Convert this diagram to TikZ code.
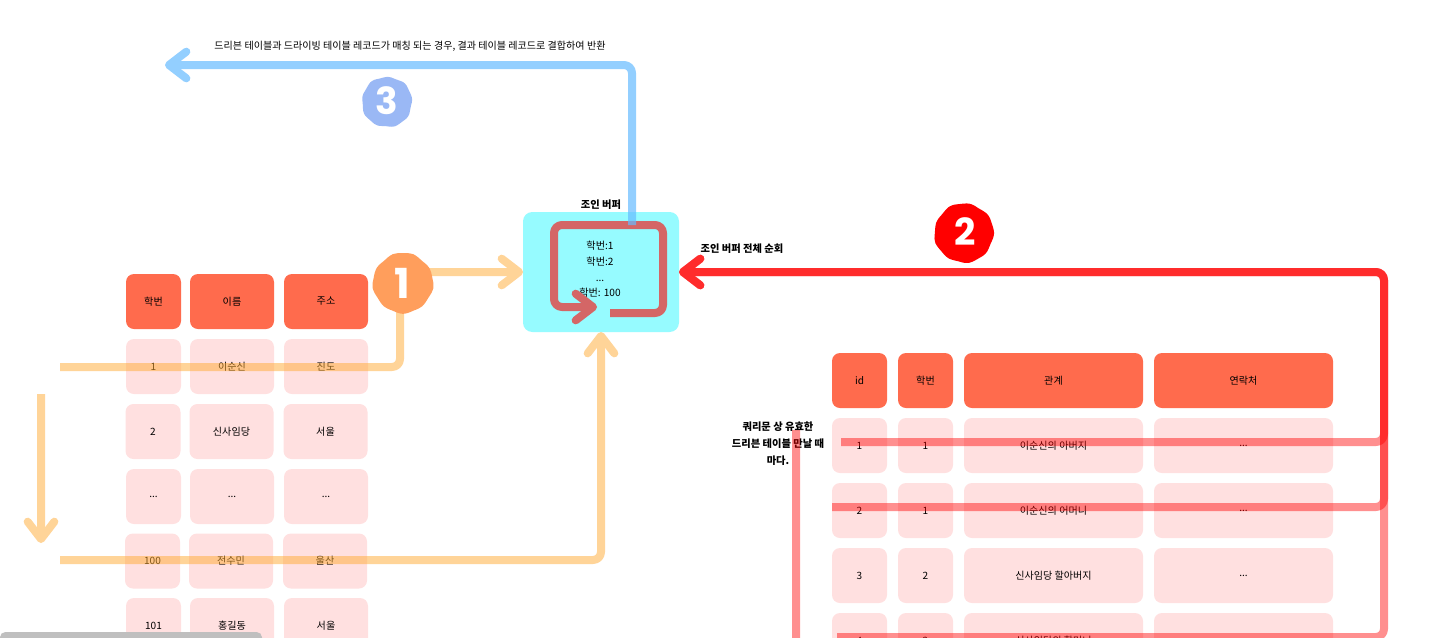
\documentclass[tikz,border=0pt]{standalone}
\usepackage{fontspec}
\setmainfont{Noto Sans CJK KR}
\newfontfamily\digitfont{Poppins}
\usetikzlibrary{arrows.meta,calc}
\definecolor{headc}{HTML}{FF6B4D}
\definecolor{cellc}{HTML}{FFE0E0}
\definecolor{bufc}{HTML}{96FBFF}
\definecolor{orangeL}{HTML}{FFAB33}
\definecolor{loopc}{HTML}{D46666}
\definecolor{blueL}{HTML}{66BBFF}
\definecolor{b1c}{HTML}{FF9E5C}
\definecolor{b3c}{HTML}{9AB8F5}
\pgfdeclarelayer{top}
\pgfsetlayers{main,top}
\def\ddd{...}
\newcommand\ct[1]{\raisebox{-.7pt}{#1}}
\newcommand\blob[5]{\fill[#4,shift={(#1,#2)}] plot[smooth cycle,domain=0:350,samples=36,variable=\a] (\a:{#3+0.5*sin(9*\a+#5)+0.35*cos(4*\a+#5)});}
\tikzset{
  x=0.75pt,y=-0.75pt,
  every node/.style={inner sep=0pt,outer sep=0pt,font=\fontsize{7.55pt}{10pt}\selectfont,text=black},
  tcell/.style={minimum height=41.25pt,rounded corners=6pt},
  head/.style={tcell,fill=headc},
  cell/.style={tcell,fill=cellc},
  w1/.style={minimum width=41.25pt},
  w2/.style={minimum width=63pt},
  w3/.style={minimum width=63pt},
  w4/.style={minimum width=134.25pt},
  bold/.style={font=\fontsize{7.7pt}{12.7pt}\selectfont\bfseries,text=black},
  conn/.style={line width=6pt,line join=round},
  barb/.style={-{Straight Barb[round,length=13pt 0 0,width=20pt 0 0,line width=6pt]}},
  ora/.style={conn,draw=orangeL,rounded corners=6pt},
  redl/.style={conn,draw=red,rounded corners=6pt},
  orag/.style={transparency group,opacity=.5},
  redg/.style={transparency group,opacity=.44},
  badge/.style={circle,minimum size=#1,text=white},
  digit/.style={font=\fontsize{#1}{#1}\digitfont\bfseries},
}
\begin{document}
\begin{tikzpicture}
\clip (0,0) rectangle (1440,637);
\useasboundingbox (0,0) rectangle (1440,637);
\fill[white] (0,0) rectangle (1440,637);
% left table
\foreach \n/\x/\w/\t in {a/153.5/w1/학번,b/232/w2/이름,c/326/w3/주소}
  \node[head,\w] (lh\n) at (\x,301.5) {\ct{\t}};
\foreach \n/\x/\w/\t in {a/153.5/w1/1,b/232/w2/이순신,c/326/w3/진도}
  \node[cell,\w] (l1\n) at (\x,366.5) {\ct{\t}};
\foreach \n/\x/\w/\t in {a/153/w1/2,b/231.5/w2/신사임당,c/325.5/w3/서울}
  \node[cell,\w] (l2\n) at (\x,431.5) {\ct{\t}};
\foreach \n/\x/\w/\t in {a/153.5/w1/\ddd,b/232/w2/\ddd,c/326/w3/\ddd}
  \node[cell,\w] (l3\n) at (\x,496.5) {\ct{\t}};
\foreach \n/\x/\w/\t in {a/152.5/w1/100,b/231/w2/전수민,c/325/w3/울산}
  \node[cell,\w] (l4\n) at (\x,561) {\ct{\t}};
\foreach \n/\x/\w/\t in {a/153.5/w1/101,b/232/w2/홍길동,c/326/w3/서울}
  \node[cell,\w] (l5\n) at (\x,625.5) {\ct{\t}};
% right table
\foreach \n/\x/\w/\t in {a/859.5/w1/id,b/925.5/w1/학번,c/1053.5/w4/관계,d/1243.5/w4/연락처}
  \node[head,\w] (rh\n) at (\x,380.5) {\ct{\t}};
\foreach \n/\x/\w/\t in {a/859.5/w1/1,b/925.5/w1/1,c/1053.5/w4/이순신의 아버지,d/1243.5/w4/\ddd}
  \node[cell,\w] (r1\n) at (\x,445.5) {\ct{\t}};
\foreach \n/\x/\w/\t in {a/859.5/w1/2,b/925.5/w1/1,c/1053.5/w4/이순신의 어머니,d/1243.5/w4/\ddd}
  \node[cell,\w] (r2\n) at (\x,510.5) {\ct{\t}};
\foreach \n/\x/\w/\t in {a/859.5/w1/3,b/925.5/w1/2,c/1053.5/w4/신사임당 할아버지,d/1243.5/w4/\ddd}
  \node[cell,\w] (r3\n) at (\x,575.5) {\ct{\t}};
\foreach \n/\x/\w/\t in {a/859.5/w1/4,b/925.5/w1/2,c/1053.5/w4/신사임당의 할머니,d/1243.5/w4/\ddd}
  \node[cell,\w] (r4\n) at (\x,640.5) {\ct{\t}};
% buffer
\node[minimum width=117pt,minimum height=90pt,rounded corners=7pt,fill=bufc] (buf) at (601,272) {};
\node[align=center,font=\fontsize{7.6pt}{11.8pt}\selectfont] (buftext) at (600,269.5) {학번:1\\학번:2\\...\\학번: 100};
% labels
\node (ret) at (410,46) {드리븐 테이블과 드라이빙 테이블 레코드가 매칭 되는 경우, 결과 테이블 레코드로 결합하여 반환};
\node[bold] (buflabel) at (601,205) {조인 버퍼};
\node[bold] (scan) at (742,249) {조인 버퍼 전체 순회};
\node[bold,align=center] (qlabel) at (778,444) {쿼리문 상 유효한\\드리븐 테이블 만날 때\\마다.};
% badges
\begin{pgfonlayer}{top}
\blob{403}{283}{30}{b1c}{0}
\blob{964}{233}{29.5}{red}{70}
\blob{387}{102}{25}{b3c}{150}
\node[badge=44pt,digit=31pt] (b1) at (402,283) {\textcolor{white}{1}};
\node[badge=43pt,digit=28pt] (b2) at (965,232) {\textcolor{white}{2}};
\node[badge=37pt,digit=28pt] (b3) at (387,101) {\textcolor{white}{3}};
\end{pgfonlayer}
% free ends
\coordinate (o1s) at (60,367);
\coordinate (o2s) at (60,560);
\coordinate (ds) at (41,394);
\coordinate (de) at (41,543);
\coordinate (a1s) at (841,442);
\coordinate (a2s) at (832,507);
\coordinate (a3s) at (837,637);
\coordinate (v1s) at (796,430);
\coordinate (v1e) at (796,640);
\coordinate (tr) at (1384,272);
\coordinate (ls) at (610,313);
\coordinate (lc) at (663,225);
\coordinate (le) at (597,307);
\coordinate (ll) at (554,225);
\coordinate (bs) at (632,225);
\coordinate (be) at (165,65);
% orange
\begin{scope}[orag]
\draw[ora] (o1s) -| ([xshift=-1.5pt]b1.center);
\end{scope}
\begin{scope}[orag]
\draw[ora,barb] (b1.center |- buf.west) -- (buf.west);
\end{scope}
\begin{scope}[orag]
\draw[ora,barb] (ds) -- (de);
\end{scope}
\begin{scope}[orag]
\draw[ora,barb] (o2s) -| (buf.south);
\end{scope}
% red
\begin{scope}[redg]
\draw[redl,barb] (a1s) -| (tr) -- (buf.east);
\end{scope}
\begin{scope}[redg]
\draw[redl,barb] (a2s) -| (tr) -- (buf.east);
\end{scope}
\begin{scope}[redg]
\draw[redl,barb] (a3s) -| (tr) -- (buf.east);
\end{scope}
\begin{scope}[redg]
\draw[conn,draw=red] (v1s) -- (v1e);
\end{scope}
% buffer loop
\draw[conn,draw=loopc,rounded corners=6pt,barb] (ls) -| (lc) -- (ll) |- (le);
% blue
\begin{scope}[transparency group,opacity=.7]
\draw[conn,draw=blueL,rounded corners=6pt,barb] (bs) |- (be);
\end{scope}
% scrollbar
\fill[black!25,rounded corners=4pt] (0,632) -- (262,632) -- (262,650) -- (0,650) -- cycle;
\end{tikzpicture}
\end{document}
